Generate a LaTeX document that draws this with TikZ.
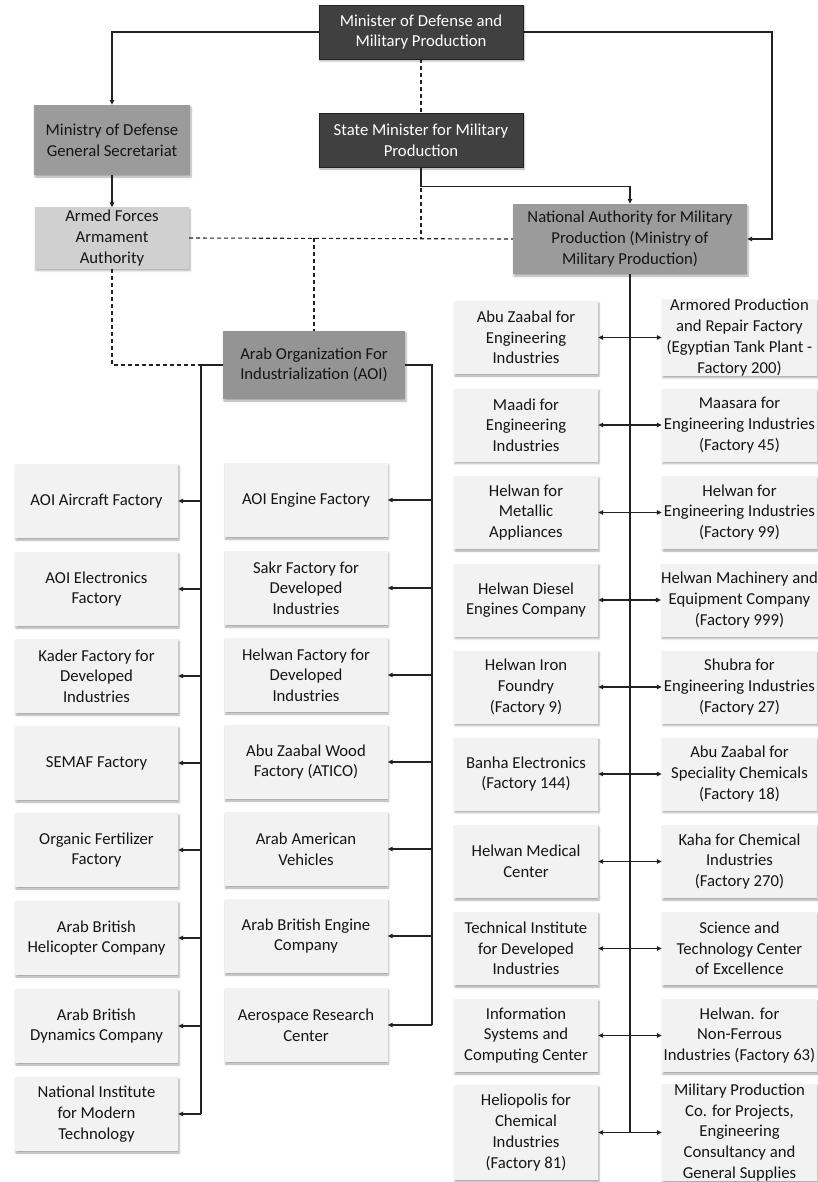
\documentclass[tikz,border=0pt]{standalone}
\usepackage{fontspec}
\setmainfont{Carlito}
\usetikzlibrary{arrows.meta,shadows.blur}
\definecolor{darkbox}{HTML}{404040}
\definecolor{darkedge}{HTML}{222222}
\definecolor{midbox}{HTML}{9B9B9B}
\definecolor{aoibox}{HTML}{949494}
\definecolor{lightbox}{HTML}{D0D0D0}
\definecolor{leafbox}{HTML}{F2F2F2}
\definecolor{linecol}{HTML}{222222}
\definecolor{txt}{HTML}{151515}
\begin{document}
\begin{tikzpicture}[x=1pt,y=-1pt,
  font=\fontsize{16.7}{20.7}\selectfont,
  base/.style={rectangle, inner sep=0pt, align=center, text=txt,
    blur shadow={shadow xshift=1pt, shadow yshift=-2pt, shadow blur radius=2pt, shadow opacity=35}},
  darkstyle/.style={base, fill=darkbox, draw=darkedge, line width=0.8pt, text=white,
    minimum width=204pt, minimum height=54pt},
  midstyle/.style={base, fill=midbox},
  aoistyle/.style={base, fill=aoibox, minimum width=182pt, minimum height=68pt},
  lightstyle/.style={base, fill=lightbox},
  leafA/.style={base, fill=leafbox, minimum width=163pt, minimum height=74pt},
  leafL/.style={base, fill=leafbox, minimum width=144pt, minimum height=73pt},
  leafR/.style={base, fill=leafbox, minimum width=155pt, minimum height=73pt},
  conn/.style={draw=linecol, line width=1.1pt},
  arr/.style={conn, -{Triangle[length=5pt,width=4.5pt]}},
  arrboth/.style={conn, {Triangle[length=5pt,width=4.5pt]}-{Triangle[length=5pt,width=4.5pt]}},
  dashline/.style={draw=linecol, line width=1.1pt, dash pattern=on 4pt off 3pt}
]
\useasboundingbox (0,0) rectangle (817,1182);

% top level
\node[darkstyle] (min) at (421,32) {Minister of Defense and\\Military Production};
\node[darkstyle] (smin) at (421,140) {State Minister for Military\\Production};
\node[midstyle, minimum width=156pt, minimum height=70pt] (mdgs) at (112,140) {Ministry of Defense\\General Secretariat};
\node[lightstyle, minimum width=154pt, minimum height=61pt] (afaa) at (112,238) {Armed Forces\\Armament\\Authority};
\node[midstyle, minimum width=234pt, minimum height=70pt] (nat) at (630,239) {National Authority for Military\\Production (Ministry of\\Military Production)};
\node[aoistyle] (aoi) at (314,365) {Arab Organization For\\Industrialization (AOI)};

% AOI left column
\node[leafA] (a1) at (96.5,501) {AOI Aircraft Factory};
\node[leafA] (a2) at (96.5,589) {AOI Electronics\\Factory};
\node[leafA] (a3) at (96.5,676) {Kader Factory for\\Developed\\Industries};
\node[leafA] (a4) at (96.5,763) {SEMAF Factory};
\node[leafA] (a5) at (96.5,850) {Organic Fertilizer\\Factory};
\node[leafA] (a6) at (96.5,938) {Arab British\\Helicopter Company};
\node[leafA] (a7) at (96.5,1026) {Arab British\\Dynamics Company};
\node[leafA] (a8) at (96.5,1114) {National Institute\\for Modern\\Technology};

% AOI middle column
\node[leafA] (b1) at (306,500) {AOI Engine Factory};
\node[leafA] (b2) at (306,588) {Sakr Factory for\\Developed\\Industries};
\node[leafA] (b3) at (306,675) {Helwan Factory for\\Developed\\Industries};
\node[leafA] (b4) at (306,762) {Abu Zaabal Wood\\Factory (ATICO)};
\node[leafA] (b5) at (306,849) {Arab American\\Vehicles};
\node[leafA] (b6) at (306,936) {Arab British Engine\\Company};
\node[leafA] (b7) at (306,1025) {Aerospace Research\\Center};

% Military production left
\node[leafL] (l1) at (526,337.5) {Abu Zaabal for\\Engineering\\Industries};
\node[leafL] (l2) at (526,425) {Maadi for\\Engineering\\Industries};
\node[leafL] (l3) at (526,512.5) {Helwan for\\Metallic\\Appliances};
\node[leafL] (l4) at (526,600) {Helwan Diesel\\Engines Company};
\node[leafL] (l5) at (526,687) {Helwan Iron\\Foundry\\(Factory 9)};
\node[leafL] (l6) at (526,774) {Banha Electronics\\(Factory 144)};
\node[leafL] (l7) at (526,861.5) {Helwan Medical\\Center};
\node[leafL] (l8) at (526,948.5) {Technical Institute\\for Developed\\Industries};
\node[leafL] (l9) at (526,1035.5) {Information\\Systems and\\Computing Center};
\node[leafL, minimum height=95pt] (l10) at (526,1132.5) {Heliopolis for\\Chemical\\Industries\\(Factory 81)};

% Military production right
\node[leafR] (r1) at (739.5,337.5) {Armored Production\\and Repair Factory\\(Egyptian Tank Plant -\\Factory 200)};
\node[leafR] (r2) at (739.5,425) {Maasara for\\Engineering Industries\\(Factory 45)};
\node[leafR] (r3) at (739.5,512.5) {Helwan for\\Engineering Industries\\(Factory 99)};
\node[leafR] (r4) at (739.5,600) {Helwan Machinery and\\Equipment Company\\(Factory 999)};
\node[leafR] (r5) at (739.5,687) {Shubra for\\Engineering Industries\\(Factory 27)};
\node[leafR] (r6) at (739.5,774) {Abu Zaabal for\\Speciality Chemicals\\(Factory 18)};
\node[leafR] (r7) at (739.5,861.5) {Kaha for Chemical\\Industries\\(Factory 270)};
\node[leafR] (r8) at (739.5,948.5) {Science and\\Technology Center\\of Excellence};
\node[leafR] (r9) at (739.5,1035.5) {Helwan. for\\Non-Ferrous\\Industries (Factory 63)};
\node[leafR, minimum height=95pt] (r10) at (739.5,1132.5) {Military Production\\Co. for Projects,\\Engineering\\Consultancy and\\General Supplies};

% helper coordinates
\coordinate (aoiL) at (201,365);
\coordinate (aoiR) at (432,365);
\coordinate (rtop) at (772,32);

% dashed relations
\draw[dashline] (min.south) -- (smin.north);
\draw[dashline] (smin.south) -- (smin.south |- afaa.east);
\draw[dashline] (afaa.east) -- (nat.west);
\draw[dashline] (aoi.north |- afaa.east) -- (aoi.north);
\draw[dashline] (afaa.south) -- (afaa.south |- aoi.west) -- (aoiL);

% solid relations top
\draw[arr] (min.west) -| (mdgs.north);
\draw[arr] (min.east) -- (rtop) |- (nat.east);
\draw[arr] (mdgs.south) -- (afaa.north);
\draw[arr] (smin.south) -- ++(0,19) -| (nat.north);

% AOI branches
\draw[conn] (aoi.west) -- (aoiL) -- (aoiL |- a8.east);
\draw[conn] (aoi.east) -- (aoiR) -- (aoiR |- b7.east);
\foreach \n in {a1,a2,a3,a4,a5,a6,a7,a8}{
  \draw[arr] (aoiL |- \n.east) -- (\n.east);
}
\foreach \n in {b1,b2,b3,b4,b5,b6,b7}{
  \draw[arr] (aoiR |- \n.east) -- (\n.east);
}

% Military production trunk
\draw[conn] (nat.south) -- (nat.south |- l10.east);
\foreach \i in {1,...,10}{
  \draw[arrboth] (l\i.east) -- (r\i.west);
}
\end{tikzpicture}
\end{document}
